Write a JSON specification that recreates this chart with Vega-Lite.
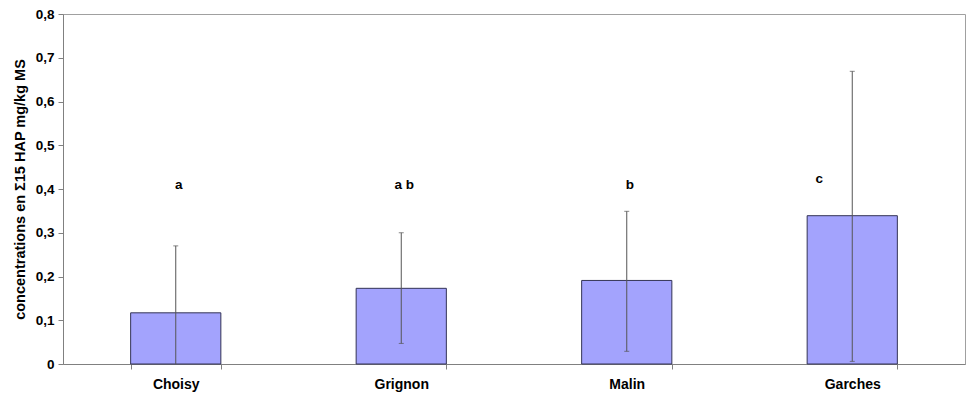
{
  "$schema": "https://vega.github.io/schema/vega-lite/v6.json",
  "width": 902,
  "height": 350,
  "autosize": "none",
  "padding": {"left": 63, "top": 14, "right": 1, "bottom": 32},
  "background": "white",
  "config": {
    "view": {"stroke": "#a0a0a0", "strokeWidth": 1},
    "font": "Liberation Sans"
  },
  "data": {
    "values": [
      {"site": "Choisy", "mean": 0.117, "lo": 0.0, "hi": 0.27, "letter": "a", "ly": 0.41},
      {"site": "Grignon", "mean": 0.173, "lo": 0.047, "hi": 0.30, "letter": "a b", "ly": 0.41},
      {"site": "Malin", "mean": 0.191, "lo": 0.029, "hi": 0.349, "letter": "b", "ly": 0.41},
      {"site": "Garches", "mean": 0.339, "lo": 0.006, "hi": 0.669, "letter": "c", "ly": 0.422}
    ]
  },
  "encoding": {
    "x": {
      "field": "site",
      "type": "nominal",
      "sort": null,
      "scale": {"paddingInner": 0.6, "paddingOuter": 0.3},
      "axis": {
        "title": null,
        "labelAngle": 0,
        "labelFont": "Liberation Sans",
        "labelFontWeight": "bold",
        "labelFontSize": 14,
        "labelColor": "black",
        "labelPadding": 8,
        "tickBand": "extent",
        "tickSize": 5,
        "tickColor": "#808080",
        "domainColor": "#808080"
      }
    }
  },
  "layer": [
    {
      "mark": {"type": "bar", "color": "#a3a3fd", "stroke": "#333355", "strokeWidth": 1},
      "encoding": {
        "y": {
          "field": "mean",
          "type": "quantitative",
          "scale": {"domain": [0, 0.8], "nice": false},
          "axis": {
            "title": "concentrations en Σ15 HAP mg/kg MS",
            "titleFont": "Liberation Sans",
            "titleFontWeight": "bold",
            "titleFontSize": 14.5,
            "titleColor": "black",
            "titlePadding": 8,
            "values": [0, 0.1, 0.2, 0.3, 0.4, 0.5, 0.6, 0.7, 0.8],
            "labelExpr": "replace(format(datum.value, '.1~f'), '.', ',')",
            "labelFont": "Liberation Sans",
            "labelFontWeight": "bold",
            "labelFontSize": 13.5,
            "labelColor": "black",
            "labelPadding": 4,
            "tickSize": 5,
            "tickColor": "#808080",
            "domainColor": "#808080",
            "grid": false
          }
        }
      }
    },
    {
      "mark": {"type": "rule", "color": "#555555", "strokeWidth": 1},
      "encoding": {
        "y": {"field": "lo", "type": "quantitative"},
        "y2": {"field": "hi"}
      }
    },
    {
      "mark": {"type": "tick", "color": "#555555", "thickness": 1, "size": 5, "orient": "horizontal"},
      "encoding": {"y": {"field": "hi", "type": "quantitative"}}
    },
    {
      "transform": [{"filter": "datum.lo > 0"}],
      "mark": {"type": "tick", "color": "#555555", "thickness": 1, "size": 5, "orient": "horizontal"},
      "encoding": {"y": {"field": "lo", "type": "quantitative"}}
    },
    {
      "transform": [{"filter": "datum.site != 'Garches'"}],
      "mark": {"type": "text", "font": "Liberation Sans", "fontWeight": "bold", "fontSize": 13.5, "color": "black", "dx": 3},
      "encoding": {
        "y": {"field": "ly", "type": "quantitative"},
        "text": {"field": "letter"}
      }
    },
    {
      "transform": [{"filter": "datum.site == 'Garches'"}],
      "mark": {"type": "text", "font": "Liberation Sans", "fontWeight": "bold", "fontSize": 13.5, "color": "black", "dx": -33},
      "encoding": {
        "y": {"field": "ly", "type": "quantitative"},
        "text": {"field": "letter"}
      }
    }
  ]
}
